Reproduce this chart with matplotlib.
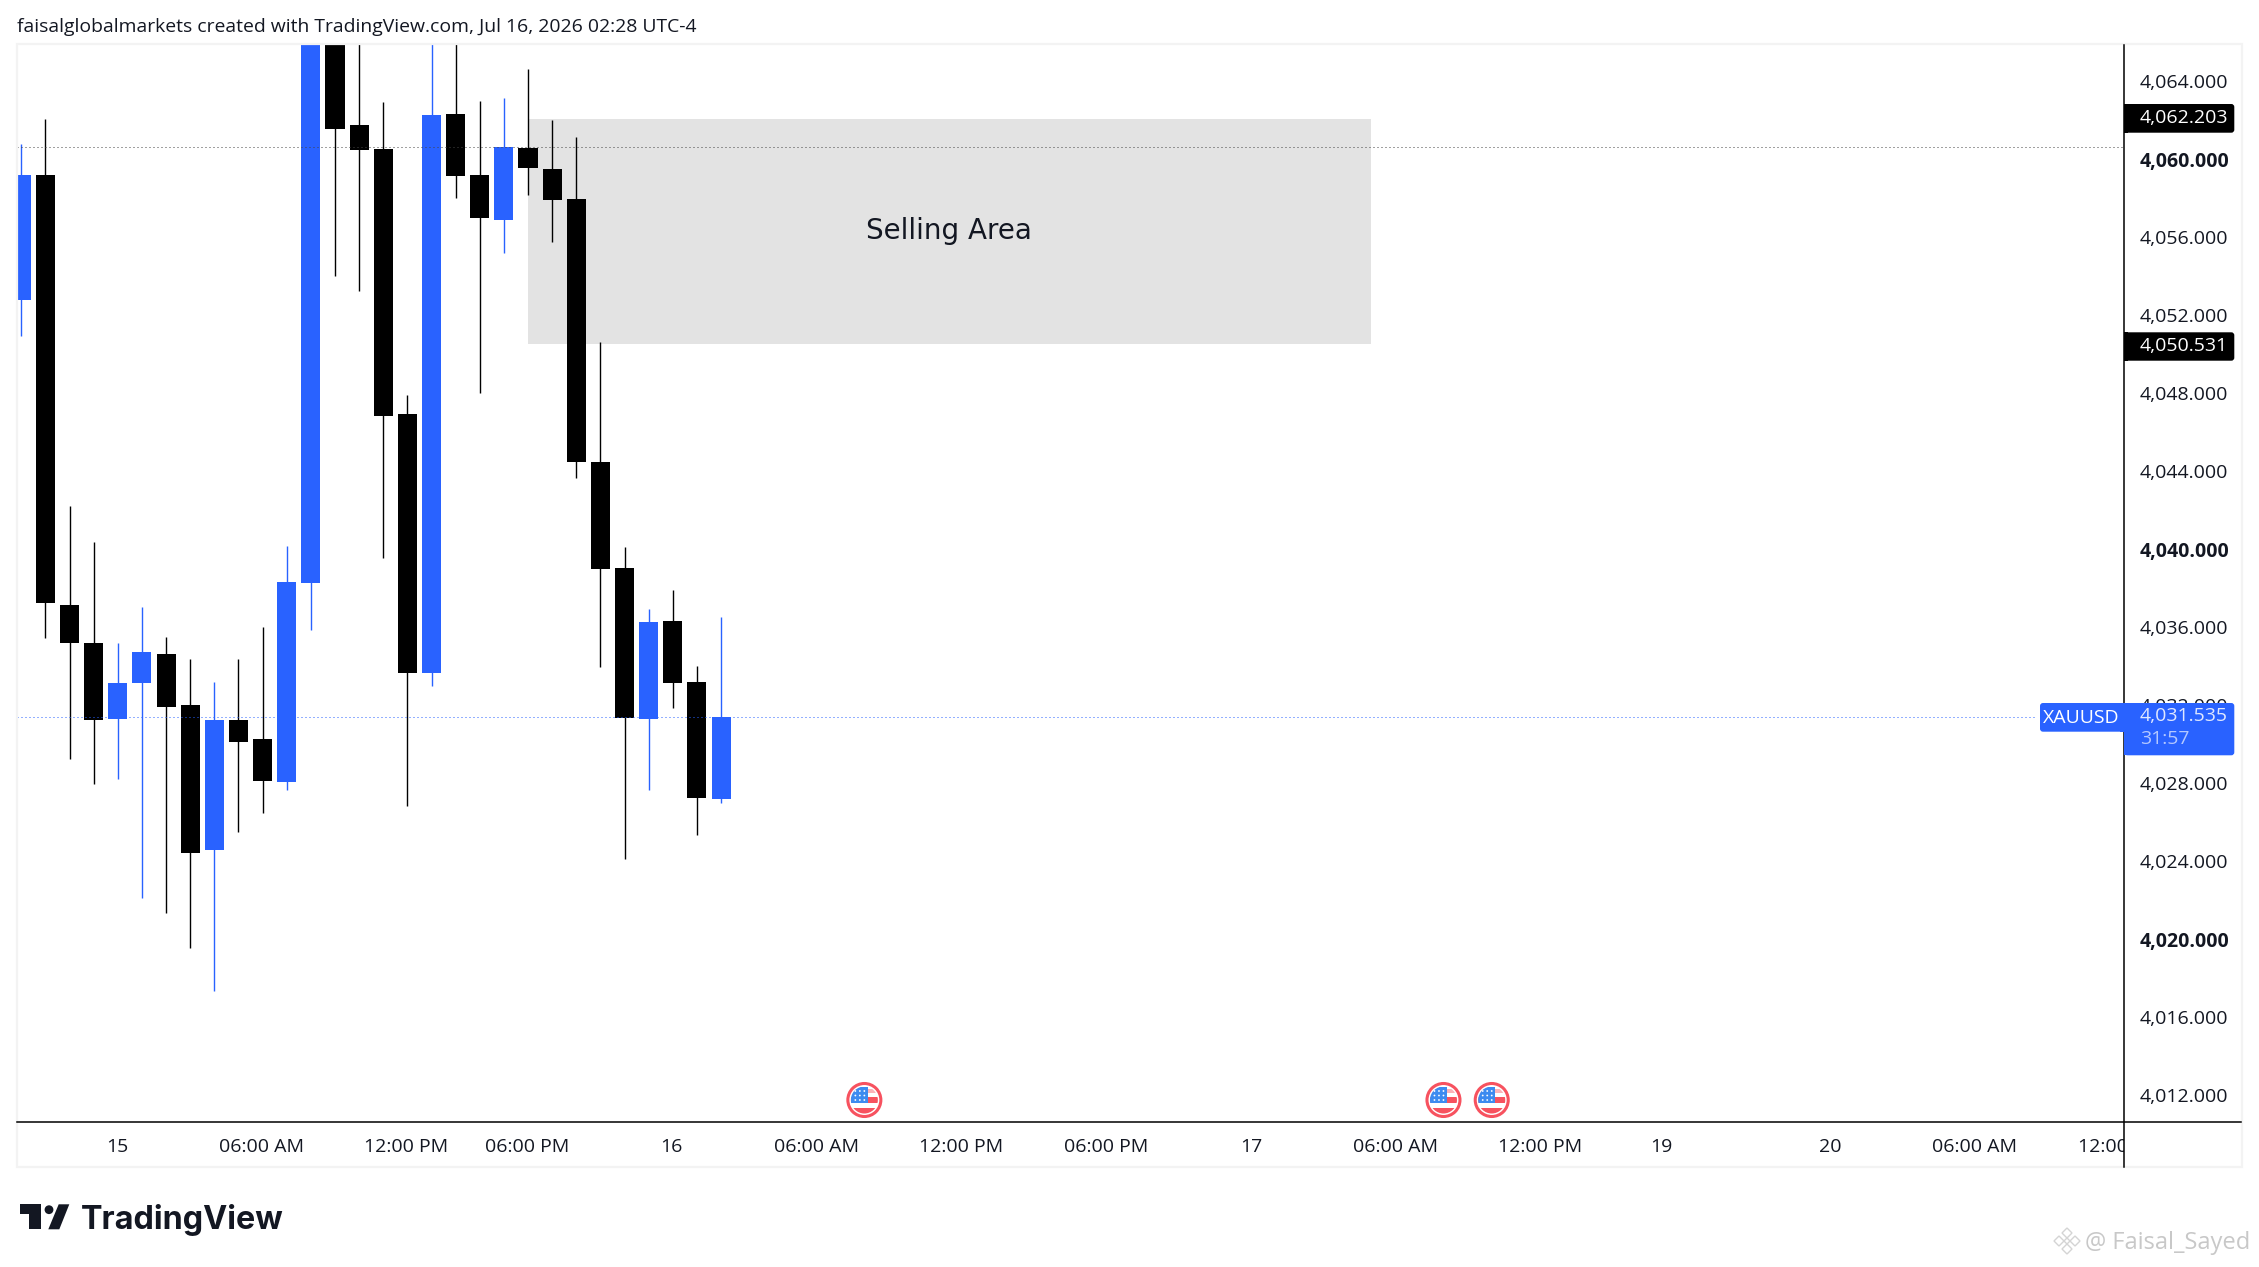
import matplotlib
matplotlib.use("Agg")
import matplotlib.pyplot as plt
from matplotlib.patches import Circle, FancyBboxPatch, Polygon, Rectangle
from matplotlib.transforms import Bbox, ScaledTranslation

# ---- data ---------------------------------------------------------------
bar_index = list(range(30))
is_up = [1, 0, 0, 0, 1, 1, 0, 0, 1, 0, 0, 1, 1, 0, 0, 0, 0, 1, 0, 0, 1, 0, 0, 0, 0, 0, 1, 0, 0, 1]
body_top = [4059.35, 4059.35, 4037.30, 4035.35, 4033.30, 4034.89, 4034.78, 4032.17, 4031.40, 4031.40,
            4030.42, 4038.48, 4067.50, 4067.50, 4061.91, 4060.68, 4047.09, 4062.42, 4062.48, 4059.35,
            4060.78, 4060.73, 4059.65, 4058.12, 4044.63, 4039.19, 4036.42, 4036.48, 4033.35, 4031.55]
body_bottom = [4052.94, 4037.42, 4035.35, 4031.40, 4031.45, 4033.30, 4032.07, 4024.58, 4024.73, 4030.27,
               4028.27, 4028.22, 4038.42, 4061.71, 4060.63, 4046.99, 4033.81, 4033.81, 4059.30, 4057.14,
               4057.04, 4059.71, 4058.07, 4044.63, 4039.14, 4031.50, 4031.45, 4033.30, 4027.40, 4027.35]
wick_high = [4060.94, 4062.22, 4042.37, 4040.53, 4035.35, 4037.19, 4035.65, 4034.53, 4033.35, 4034.53,
             4036.17, 4040.32, 4068.00, 4068.00, 4068.00, 4063.09, 4048.07, 4068.00, 4068.00, 4063.14,
             4063.30, 4064.78, 4062.17, 4061.30, 4050.78, 4040.27, 4037.09, 4038.06, 4034.17, 4036.68]
wick_low = [4051.11, 4035.62, 4029.40, 4028.12, 4028.37, 4022.27, 4021.50, 4019.71, 4017.50, 4025.65,
            4026.63, 4027.81, 4036.01, 4054.17, 4053.40, 4039.71, 4026.99, 4033.14, 4058.17, 4048.17,
            4055.35, 4058.32, 4055.91, 4043.81, 4034.12, 4024.27, 4027.81, 4032.01, 4025.50, 4027.15]

y_ticks = [4064, 4060, 4056, 4052, 4048, 4044, 4040, 4036, 4032, 4028, 4024, 4020, 4016, 4012]
y_ticks_bold = [4060, 4040, 4020]
x_ticks = [4, 10, 16, 21, 27, 33, 39, 45, 51, 57, 63, 68, 75, 81, 87]
x_labels = ["15", "06:00 AM", "12:00 PM", "06:00 PM", "16", "06:00 AM", "12:00 PM", "06:00 PM",
            "17", "06:00 AM", "12:00 PM", "19", "20", "06:00 AM", "12:00 PM"]
zone_start, zone_end = 21, 55.95
zone_top, zone_bottom = 4062.203, 4050.70
zone_label = "Selling Area"
last_price = 4031.535
prev_level = 4060.77
event_bars = [35, 59, 61]
title_text = "faisalglobalmarkets created with TradingView.com, Jul 16, 2026 02:28 UTC-4"

# ---- style --------------------------------------------------------------
W, H = 2259, 1267
BLUE, BLACK, INK = "#2962FF", "#000000", "#131722"
UI_FONT = ["Open Sans", "DejaVu Sans"]
LEFT, RIGHT, TOP, BOTTOM = 17, 2124.3, 45.3, 1122.3
FRAME_R, FRAME_B = 2242, 1167
BAR0, STEP = 21.3, 24.13
PX_PER_UNIT = 19.5
Y_REF, V_REF = 717.3, last_price

plt.rcParams["font.family"] = UI_FONT
fig = plt.figure(figsize=(W / 100, H / 100), dpi=100, facecolor="white")
ax = fig.add_axes([LEFT / W, 1 - BOTTOM / H, (RIGHT - LEFT) / W, (BOTTOM - TOP) / H])
ax.set_xlim((LEFT - BAR0) / STEP, (RIGHT - BAR0) / STEP)
ax.set_ylim(V_REF - (BOTTOM - Y_REF) / PX_PER_UNIT, V_REF + (Y_REF - TOP) / PX_PER_UNIT)

# zone
ax.add_patch(Rectangle((zone_start, zone_bottom), zone_end - zone_start, zone_top - zone_bottom,
                       facecolor="#e3e3e3", edgecolor="none", zorder=1))
ax.text(38.45, 4056.45, zone_label, ha="center", va="center",
        fontsize=20, color=INK, family=["DejaVu Sans"], zorder=6)

# candles
colors = [BLUE if u else BLACK for u in is_up]
wicks = ax.vlines(bar_index, wick_low, wick_high, colors=colors, linewidth=1.0, zorder=3)
wicks.set_snap(True)
ax.bar(bar_index, [t - b for t, b in zip(body_top, body_bottom)], bottom=body_bottom, width=0.79,
       color=colors, linewidth=0, zorder=4)

# levels
ax.axhline(prev_level, color="#444444", lw=0.72, ls=(0, (1, 3)), dash_capstyle="butt", zorder=5)
ax.plot([(LEFT - BAR0) / STEP, (2037 - BAR0) / STEP], [last_price, last_price], color=BLUE, lw=0.72,
        ls=(0, (1, 3)), dash_capstyle="butt", zorder=5)

# axes
for s in ax.spines.values():
    s.set_visible(False)
ax.yaxis.tick_right()
ax.set_yticks(y_ticks, [f"{v:,.3f}" for v in y_ticks])
ax.set_xticks(x_ticks, x_labels)
ax.tick_params(axis="y", length=0, pad=10.8, labelsize=14, labelcolor=INK)
ax.tick_params(axis="x", length=0, pad=11.0, labelsize=14, labelcolor=INK)
shift_y = ScaledTranslation(0, 3 / 100, fig.dpi_scale_trans)
for v, tick in zip(y_ticks, ax.yaxis.get_major_ticks()):
    tick.label2.set_transform(tick.label2.get_transform() + shift_y)
    if v in y_ticks_bold:
        tick.label2.set_fontweight("bold")
shift_x = ScaledTranslation(-1 / 100, 0, fig.dpi_scale_trans)
for tick in ax.xaxis.get_major_ticks():
    tick.label1.set_transform(tick.label1.get_transform() + shift_x)
xt = ax.get_xticklabels()
xt[-1].set_clip_on(True)
xt[-1].set_clip_box(Bbox([[0, 0], [RIGHT, H]]))

# ---- screen-space chrome on a pixel overlay ------------------------------
ov = fig.add_axes([0, 0, 1, 1], facecolor="none")
ov.set_xlim(0, W)
ov.set_ylim(H, 0)
ov.axis("off")

ov.add_patch(Rectangle((LEFT - 0.5, TOP - 1), FRAME_R - LEFT + 0.5, FRAME_B - TOP + 1, fill=False,
                       edgecolor="#f3f3f3", lw=1.6, zorder=1))
ov.plot([LEFT, FRAME_R - 1], [BOTTOM, BOTTOM], color="black", lw=1.1, zorder=2)
ov.plot([RIGHT, RIGHT], [TOP, FRAME_B], color="black", lw=1.1, zorder=2)


def tag(x0, x1, y0, y1, color):
    ov.add_patch(FancyBboxPatch((x0 + 2, y0 + 2), x1 - x0 - 4, y1 - y0 - 4,
                                boxstyle="round,pad=2,rounding_size=3", facecolor=color,
                                edgecolor="none", zorder=3))
    if x1 > RIGHT + 1:
        ov.add_patch(Rectangle((x0, y0), 4, y1 - y0, facecolor=color, edgecolor="none", zorder=3))
    else:
        ov.add_patch(Rectangle((x1 - 4, y0), 4, y1 - y0, facecolor=color, edgecolor="none", zorder=3))


tag(RIGHT, 2234.3, 104, 132.7, BLACK)
ov.text(2140, 118, "4,062.203", color="white", fontsize=14, va="center", zorder=4)
tag(RIGHT, 2234.3, 332.3, 360.7, BLACK)
ov.text(2140, 346.2, "4,050.531", color="white", fontsize=14, va="center", zorder=4)
tag(RIGHT, 2234.3, 703, 755.3, BLUE)
ov.text(2140, 716.4, "4,031.535", color="#dfe7ff", fontsize=14, va="center", zorder=4)
ov.text(2140, 739.4, "31:57", color="#b4c8ff", fontsize=14, va="center", zorder=4)
tag(2040, RIGHT, 703, 731.7, BLUE)
ov.text(2081.7, 718.2, "XAUUSD", color="white", fontsize=14, va="center", ha="center", zorder=4)

ov.text(17, 26.5, title_text, color=INK, fontsize=13.95, va="center", zorder=4)


# events
def flag(cx, cy=1100, r=16.5):
    clip = Circle((cx, cy), 13.5, transform=ov.transData)
    ov.add_patch(Circle((cx, cy), r, facecolor="white", edgecolor="#f7525f", lw=2.2, zorder=3))
    for y0, h, col in ((cy - 11, 4, "#fbb3b8"), (cy - 3, 6, "#f7525f"), (cy + 8, 6, "#f7525f")):
        p = ov.add_patch(Rectangle((cx - r, y0), 2 * r, h, facecolor=col, edgecolor="none", zorder=4))
        p.set_clip_path(clip)
    p = ov.add_patch(Rectangle((cx - 13.5, cy - 13), 17, 16, facecolor="#3d8bf0", edgecolor="none", zorder=5))
    p.set_clip_path(clip)
    for dy in (-9, -4.5, 0):
        for dx in (-9, -4.5, 0):
            ov.add_patch(Circle((cx + dx, cy + dy), 0.9, facecolor="white", edgecolor="none", zorder=6))


for b in event_bars:
    flag(BAR0 + STEP * b - 1.5)

# TradingView logo
logo = "#131722"
ov.add_patch(Polygon([(20, 1204.3), (40.7, 1204.3), (40.7, 1229.3), (29.3, 1229.3), (29.3, 1214.3), (20, 1214.3)],
                     facecolor=logo, edgecolor="none"))
ov.add_patch(Circle((49, 1209.7), 4.4, facecolor=logo, edgecolor="none"))
ov.add_patch(Polygon([(58.7, 1204.3), (69.3, 1204.3), (59.3, 1229.3), (48.3, 1229.3)], facecolor=logo, edgecolor="none"))
ov.text(81, 1229.3, "TradingView", color=logo, fontsize=23.3, family=["Inter"], fontweight="bold", va="baseline")

# watermark
wm = "#d4d4d4"
ov.text(2085, 1243, "@ Faisal_Sayed", color="#c8c8c8", fontsize=17, family=["Open Sans"], va="center")
for dx, dy in ((0, -8), (0, 8), (-8, 0), (8, 0)):
    ov.add_patch(Polygon([(2067 + dx, 1241 + dy - 5), (2067 + dx + 5, 1241 + dy), (2067 + dx, 1241 + dy + 5),
                          (2067 + dx - 5, 1241 + dy)], fill=False, edgecolor=wm, lw=1.0))
ov.add_patch(Polygon([(2067, 1238), (2070, 1241), (2067, 1244), (2064, 1241)], fill=False, edgecolor=wm, lw=1.0))

fig.savefig("out.png", dpi=100, facecolor="white")
